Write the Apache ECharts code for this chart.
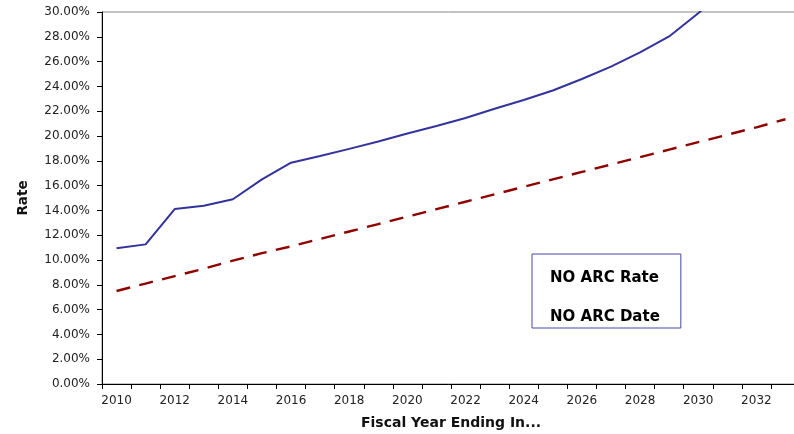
<!DOCTYPE html>
<html><head><meta charset="utf-8">
<script src="https://cdn.jsdelivr.net/npm/echarts@6/dist/echarts.min.js"></script>
<style>html,body{margin:0;padding:0;background:#fff}#c{width:794px;height:434px}</style>
</head><body><div id="c"></div>
<script>
const years = ['2010','2011','2012','2013','2014','2015','2016','2017','2018','2019','2020','2021','2022','2023','2024','2025','2026','2027','2028','2029','2030','2031','2032','2033'];
const noArcRate = [10.94,11.26,14.11,14.38,14.9,16.5,17.85,18.39,18.96,19.55,20.2,20.8,21.45,22.2,22.9,23.67,24.6,25.6,26.74,28.03,29.9,31.9,null,null];
const noArcDate = [7.5,8.1,8.7,9.3,9.95,10.55,11.1,11.7,12.3,12.9,13.5,14.1,14.7,15.3,15.9,16.5,17.1,17.7,18.3,18.9,19.5,20.1,20.7,21.35];
const yTicks = {min:0, max:30, interval:2};

const chart = echarts.init(document.getElementById('c'), null, {renderer:'canvas'});
const labelFont = {fontFamily:'DejaVu Sans', fontSize:12, color:'#222'};
chart.setOption({
  animation:false,
  grid:{left:102, top:12, right:-6, bottom:50, show:true, borderColor:'#888', borderWidth:1, containLabel:false, outerBoundsMode:'none'},
  legend:{
    data:['NO ARC Rate','NO ARC Date'], orient:'vertical', left:532, top:254,
    icon:'none', itemWidth:0, itemHeight:14, itemGap:24,
    padding:[17,21,3,13], borderColor:'#4646a8', borderWidth:1,
    textStyle:{fontFamily:'DejaVu Sans', fontWeight:'bold', fontSize:15, color:'#000'}
  },
  xAxis:{
    type:'category', data:years, boundaryGap:true,
    name:'Fiscal Year Ending In...', nameLocation:'middle', nameGap:32,
    nameTextStyle:{fontFamily:'DejaVu Sans', fontWeight:'bold', fontSize:14, color:'#111'},
    axisLine:{lineStyle:{color:'#000', width:1}},
    axisTick:{show:true, interval:0, length:5, lineStyle:{color:'#000'}},
    axisLabel:Object.assign({interval:1, margin:11}, labelFont),
    splitLine:{show:false}
  },
  yAxis:{
    type:'value', min:yTicks.min, max:yTicks.max, interval:yTicks.interval,
    name:'Rate', nameLocation:'middle', nameRotate:90, nameGap:72,
    nameTextStyle:{fontFamily:'DejaVu Sans', fontWeight:'bold', fontSize:13.5, color:'#111'},
    axisLine:{show:true, lineStyle:{color:'#000', width:1}},
    axisTick:{show:true, length:5, lineStyle:{color:'#000'}},
    axisLabel:Object.assign({margin:12, formatter:v=>v.toFixed(2)+'%'}, labelFont),
    splitLine:{show:false}
  },
  series:[
    {name:'NO ARC Rate', type:'line', data:noArcRate, showSymbol:false, symbol:'none', clip:true,
     lineStyle:{color:'#33339c', width:2}, itemStyle:{color:'#33339c'}},
    {name:'NO ARC Date', type:'line', data:noArcDate, showSymbol:false, symbol:'none', clip:true,
     lineStyle:{color:'#8f0000', width:2.4, type:[14,9.5]}, itemStyle:{color:'#8f0000'}}
  ]
});
</script></body></html>
